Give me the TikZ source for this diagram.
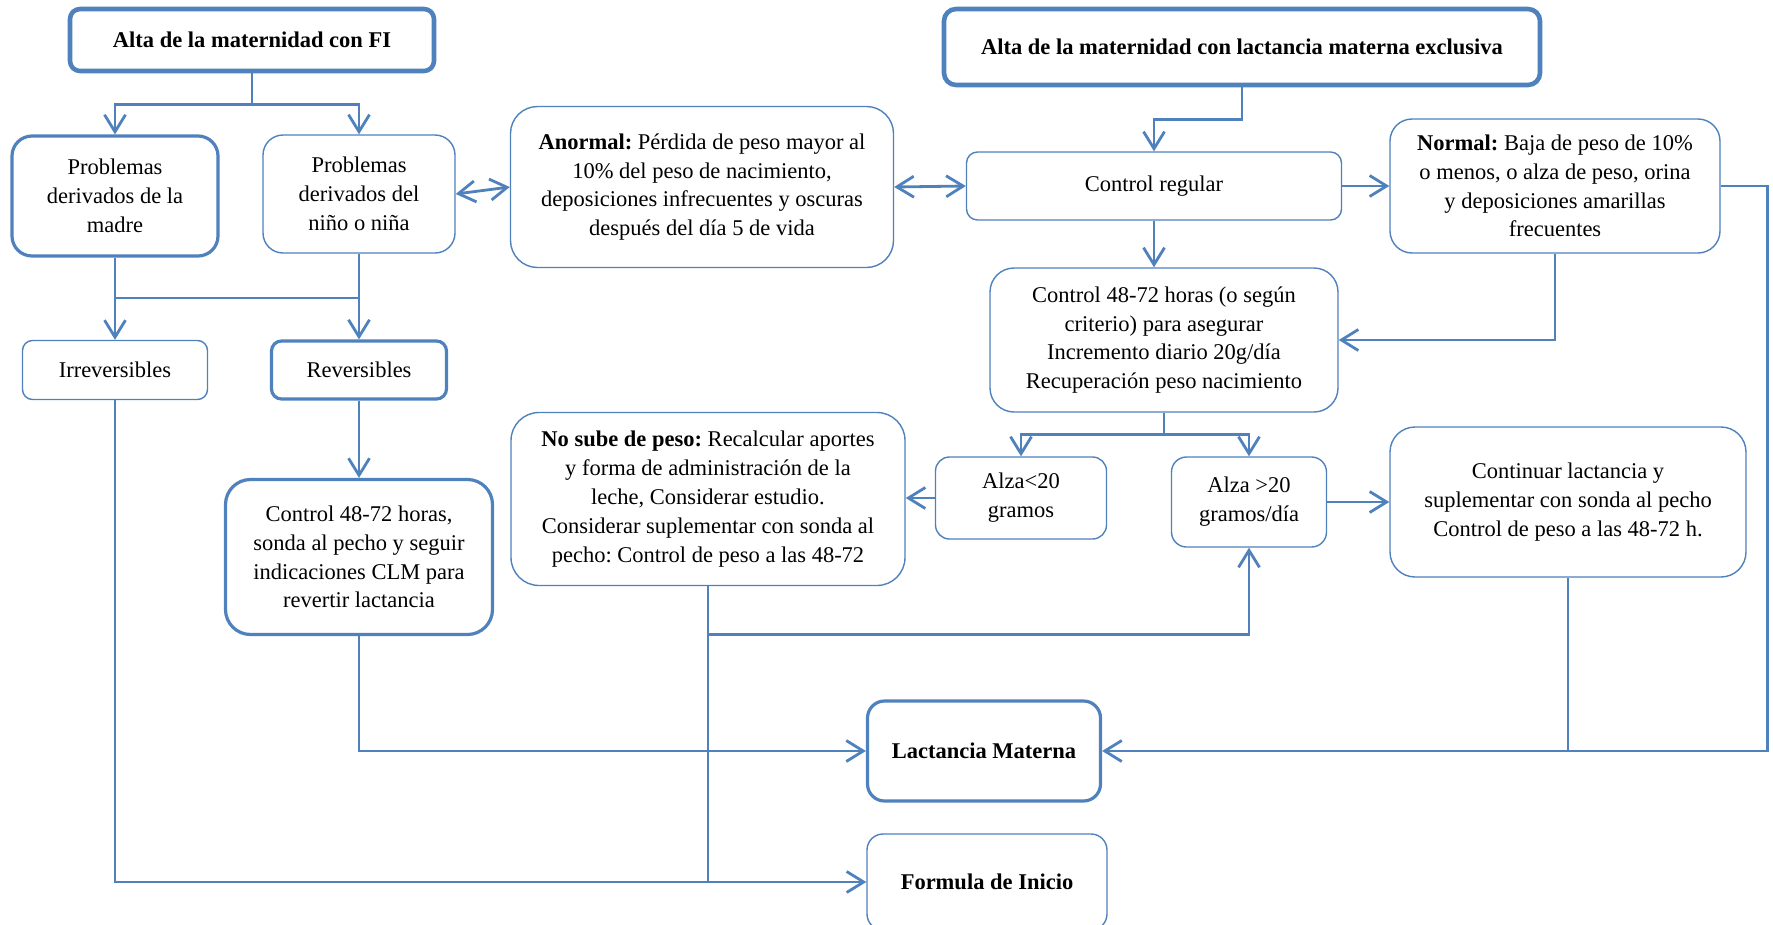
\documentclass[tikz,border=0pt]{standalone}
\usepackage{fontspec}
\setmainfont{Liberation Serif}
\frenchspacing
\usetikzlibrary{arrows.meta}
\definecolor{flowblue}{RGB}{79,129,189}
\tikzset{
  every node/.style={font=\fontsize{22.5}{28.8}\selectfont, align=center},
  box/.style={draw=flowblue, line width=1.4pt, fill=white, inner sep=0pt},
  boldbox/.style={box, line width=3.2pt},
  headbox/.style={box, line width=4.6pt},
  link/.style={draw=flowblue, line width=2.8pt},
  >={Straight Barb[length=17pt,width=21pt]}
}
\begin{document}
\begin{tikzpicture}[x=1pt,y=-1pt]
            \useasboundingbox (0,0) rectangle (1773,924);
%
            % top boxes
            \node[headbox, rounded corners=10pt, minimum width=364pt, minimum height=62pt] (fi) at (252,40) {\textbf{Alta de la maternidad con FI}};
            \node[headbox, rounded corners=12pt, minimum width=596pt, minimum height=76pt] (lme) at (1242,47) {\textbf{Alta de la maternidad con lactancia materna exclusiva}};
%
            % left column
            \node[boldbox, rounded corners=20pt, minimum width=206pt, minimum height=120pt] (madre) at (115,196) {Problemas\\derivados de la\\madre};
            \node[box, rounded corners=20pt, minimum width=192pt, minimum height=118pt] (nino) at (359,194) {Problemas\\derivados del\\niño o niña};
            \node[box, rounded corners=10pt, minimum width=185pt, minimum height=59pt] (irrev) at (115,370) {Irreversibles};
            \node[boldbox, rounded corners=10pt, minimum width=175pt, minimum height=58pt] (rev) at (359,370) {Reversibles};
            \node[boldbox, rounded corners=25pt, minimum width=267pt, minimum height=155pt] (revctrl) at (359,557) {Control 48-72 horas,\\sonda al pecho y seguir\\indicaciones CLM para\\revertir lactancia};
%
            % middle column
            \node[box, rounded corners=27pt, minimum width=383pt, minimum height=161pt] (anormal) at (702,187) {\textbf{Anormal:} Pérdida de peso mayor al\\10\% del peso de nacimiento,\\deposiciones infrecuentes y oscuras\\después del día 5 de vida};
            \node[box, rounded corners=28pt, minimum width=394pt, minimum height=173pt] (nosube) at (708,499) {\textbf{No sube de peso:} Recalcular aportes\\y forma de administración de la\\leche, Considerar estudio.\\Considerar suplementar con sonda al\\pecho: Control de peso a las 48-72};
            \node[boldbox, rounded corners=17pt, minimum width=233pt, minimum height=100pt] (lm) at (984,751) {\textbf{Lactancia Materna}};
            \node[box, rounded corners=16pt, minimum width=240pt, minimum height=96pt] (fdi) at (987,882) {\textbf{Formula de Inicio}};
%
            % right column
            \node[box, rounded corners=11pt, minimum width=375pt, minimum height=68pt] (creg) at (1154,186) {Control regular};
            \node[box, rounded corners=22pt, minimum width=330pt, minimum height=134pt] (normal) at (1555,186) {\textbf{Normal:} Baja de peso de 10\%\\o menos, o alza de peso, orina\\y deposiciones amarillas\\frecuentes};
            \node[box, rounded corners=24pt, minimum width=348pt, minimum height=144pt] (ctrl48) at (1164,340) {Control 48-72 horas (o según\\criterio) para asegurar\\Incremento diario 20g/día\\Recuperación peso nacimiento};
            \node[box, rounded corners=14pt, minimum width=171pt, minimum height=82pt] (alzamenos) at (1021,498) {Alza<20\\gramos};
            \node[box, rounded corners=15pt, minimum width=155pt, minimum height=90pt] (alzamas) at (1249,502) {Alza >20\\gramos/día};
            \node[box, rounded corners=25pt, minimum width=356pt, minimum height=150pt] (cont) at (1568,502) {Continuar lactancia y\\suplementar con sonda al pecho\\Control de peso a las 48-72 h.};
%
            % FI branch
            \draw[link] (fi.south) -- ++(0,31) coordinate (fijoin);
            \draw[link,->] (fijoin) -| (madre.north);
            \draw[link,->] (fijoin) -| (nino.north);
            \coordinate (probjoin) at (115,298);
            \draw[link] (madre.south) -- (probjoin) -- (probjoin -| nino.south) -- (nino.south);
            \draw[link,->] (probjoin) -- (irrev.north);
            \draw[link,->] (probjoin -| nino.south) -- (rev.north);
            \draw[link,->] (rev.south) -- (revctrl.north);
            \draw[link,<->] (nino.east) -- (anormal.west);
            \draw[link,<->] (anormal.east) -- (creg.west);
            \draw[link,->] (revctrl.south) |- (lm.west);
            \draw[link,->] (irrev.south) |- (fdi.west);
%
            % lactancia materna branch
            \draw[link,->] (lme.south) -- ++(0,32) -| (creg.north);
            \draw[link,->] (creg.east) -- (normal.west);
            \draw[link,->] (creg.south) -- (creg.south |- ctrl48.north);
            \draw[link,->] (normal.south) |- (ctrl48.east);
            \draw[link,->] (normal.east) -- ++(47,0) |- (lm.east);
            \draw[link] (cont.south) -- (cont.south |- lm.east);
            \draw[link] (ctrl48.south) -- ++(0,22) coordinate (alzajoin);
            \draw[link,->] (alzajoin) -| (alzamenos.north);
            \draw[link,->] (alzajoin) -| (alzamas.north);
            \draw[link,->] (alzamenos.west) -- (alzamenos.west -| nosube.east);
            \draw[link,->] (alzamas.east) -- (alzamas.east -| cont.west);
            \draw[link,->] (nosube.south) -- ++(0,48) coordinate (nosubejoin) -| (alzamas.south);
            \draw[link] (nosubejoin) -- (nosubejoin |- fdi.west);
        \end{tikzpicture}
\end{document}
